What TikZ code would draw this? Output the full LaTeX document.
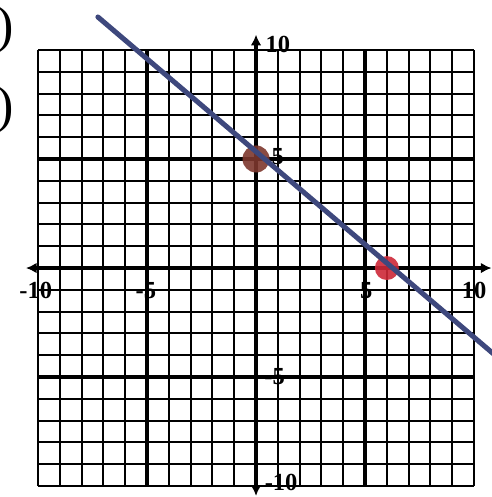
\documentclass[tikz,border=0pt]{standalone}
\usepackage{fontspec}
\setmainfont{Liberation Serif}
\usetikzlibrary{arrows.meta}
\definecolor{linegray}{RGB}{62,72,125}
\definecolor{dotbrown}{RGB}{125,55,45}
\definecolor{dotred}{RGB}{205,40,55}

\begin{document}
\begin{tikzpicture}[x=0.5cm, y=0.5cm,
    gridline/.style={line width=1.3pt},
    fiveline/.style={line width=2.2pt},
    axisline/.style={line width=2.6pt, {Latex[length=7pt,width=7pt]}-{Latex[length=7pt,width=7pt]}},
    ticklabel/.style={font=\fontsize{16}{16}\selectfont\bfseries, inner sep=0pt},
    paren/.style={font=\fontsize{34}{34}\selectfont, inner sep=0pt, anchor=east},
    graphline/.style={line width=3.3pt, linegray, line cap=round},
    point/.style={circle, inner sep=0pt, opacity=0.9}]
  \useasboundingbox (-11.74,-10.50) rectangle (10.78,12.29);
  % the cut-off part labels on the left
  \node[paren] (parta) at (-11.1,10.9) {)};
  \node[paren] (partb) at (-11.1,7.25) {)};

  % grid, every fifth line heavier
  \foreach \k in {-10,...,10} {
    \draw[gridline] (\k,-10) -- (\k,10);
    \draw[gridline] (-10,\k) -- (10,\k);}
  \foreach \k in {-5,5} {
    \draw[fiveline] (\k,-10) -- (\k,10);
    \draw[fiveline] (-10,\k) -- (10,\k);}

  % axes
  \draw[axisline] (-10.55,0) -- (10.8,0);
  \draw[axisline] (0,-10.45) -- (0,10.7);

  % tick labels on the x-axis
  \node[ticklabel] (xmten)  at (-10.1,-1.05) {-10};
  \node[ticklabel] (xmfive) at (-5.05,-1.05) {-5};
  \node[ticklabel] (xfive)  at (5.05,-1.05)  {5};
  \node[ticklabel] (xten)   at (10.0,-1.05)  {10};
  % tick labels on the y-axis
  \node[ticklabel] (yten)   at (1.0,10.25)   {10};
  \node[ticklabel] (yfive)  at (1.0,5.1)     {5};
  \node[ticklabel] (ymfive) at (0.85,-5.0)   {-5};
  \node[ticklabel] (ymten)  at (1.15,-9.85)  {-10};

  % intercepts and the line through them
  \node[point, fill=dotbrown, minimum size=0.62cm] (yint) at (0,5) {};
  \node[point, fill=dotred, minimum size=0.55cm] (xint) at (6,0) {};
  \coordinate (lstart) at (-7.25,11.51);
  \coordinate (lend) at (11.2,-4.2);
  \draw[graphline] (lstart) -- (lend);
\end{tikzpicture}
\end{document}
